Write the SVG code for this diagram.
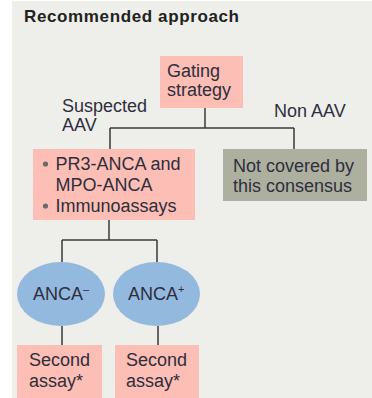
<svg xmlns="http://www.w3.org/2000/svg" width="372" height="398" viewBox="0 0 372 398">
<style>
text{font-family:"Liberation Sans",Arial,sans-serif;font-size:18px;fill:#2e2e3c}
.title{font-weight:bold;font-size:17px;fill:#222}
.pink{fill:#fcbeb5}
.grey{fill:#adb09f}
.oval{fill:#93b9df}
.ln{stroke:#3a3a3a;stroke-width:1.5;fill:none}
.sup{font-size:11px}
</style>
<rect x="12" y="1" width="360" height="397" fill="#eeeeea"/>
<text class="title" x="24" y="22" textLength="215">Recommended approach</text>
<g id="connectors">
<path class="ln" d="M205 108V128M110 128H294M110 128V149M294 128V149"/>
<path class="ln" d="M109 220V240M62 240H157M62 240V262M157 240V262"/>
<path class="ln" d="M62 326V345M158 326V345"/>
</g>
<g id="label-suspected"><text x="62" y="111.5">Suspected</text><text x="62" y="131">AAV</text></g>
<g id="label-nonaav"><text x="274" y="117">Non AAV</text></g>
<g id="gating"><rect class="pink" x="160" y="56" width="83" height="52"/><text x="167" y="77">Gating</text><text x="167" y="96">strategy</text></g>
<g id="assays"><rect class="pink" x="33" y="149" width="162" height="71"/>
<circle cx="45.5" cy="164" r="2.6" fill="#6a6a6a"/><circle cx="45.5" cy="206" r="2.6" fill="#6a6a6a"/>
<text x="55.5" y="170">PR3-ANCA and</text><text x="55.5" y="190.5">MPO-ANCA</text><text x="55.5" y="211.5">Immunoassays</text></g>
<g id="notcovered"><rect class="grey" x="223" y="149" width="144" height="52"/><text x="233" y="172">Not covered by</text><text x="233" y="192">this consensus</text></g>
<g id="anca-neg"><ellipse class="oval" cx="61" cy="294" rx="44" ry="32"/><text x="33" y="300">ANCA<tspan class="sup" dy="-7">–</tspan></text></g>
<g id="anca-pos"><ellipse class="oval" cx="156.5" cy="294" rx="43.5" ry="32"/><text x="128" y="300">ANCA<tspan class="sup" dy="-7">+</tspan></text></g>
<g id="second1"><rect class="pink" x="17" y="345" width="85" height="55"/><text x="29" y="366">Second</text><text x="29" y="387">assay*</text></g>
<g id="second2"><rect class="pink" x="115" y="345" width="84" height="55"/><text x="126" y="366">Second</text><text x="126" y="387">assay*</text></g>
</svg>
